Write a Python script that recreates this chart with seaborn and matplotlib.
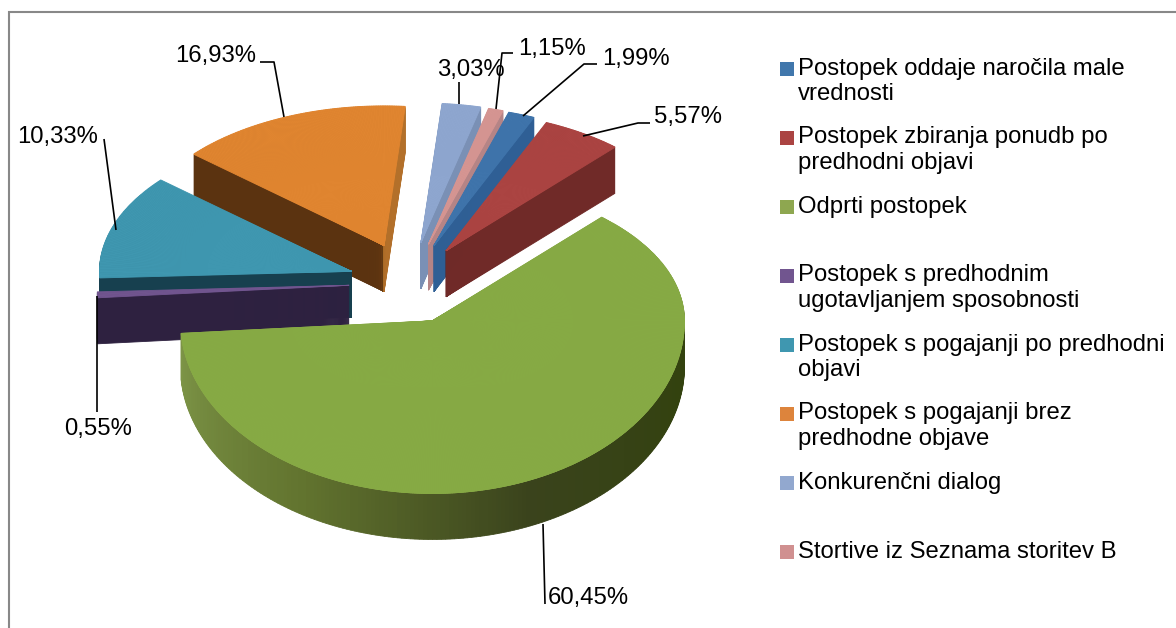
import numpy as np
import matplotlib
matplotlib.use('Agg')
import matplotlib.pyplot as plt
from matplotlib.patches import Rectangle
import seaborn as sns

# data, in the order of the legend
categories = [
    'Postopek oddaje naročila male\nvrednosti',
    'Postopek zbiranja ponudb po\npredhodni objavi',
    'Odprti postopek',
    'Postopek s predhodnim\nugotavljanjem sposobnosti',
    'Postopek s pogajanji po predhodni\nobjavi',
    'Postopek s pogajanji brez\npredhodne objave',
    'Konkurenčni dialog',
    'Stortive iz Seznama storitev B',
]
shares = [1.99, 5.57, 60.45, 0.55, 10.33, 16.93, 3.03, 1.15]

top_colors = ['#3f74ab', '#ab4442', '#8ea750', '#71558f', '#3f97b0', '#e08530', '#8ea6cf', '#d59592']
key_colors = ['#4177ac', '#ab4442', '#8ea750', '#71558f', '#3f97b0', '#dd843c', '#92a8cf', '#d09090']
side_stops = [
    ['#2f5f95', '#2f5f95'],
    ['#702a28', '#702a28'],
    ['#33420f', '#33420f', '#3a431c', '#62742f', '#7e9648'],
    ['#2e2140', '#2e2140'],
    ['#17404f', '#17404f'],
    ['#5b3310', '#b3702a'],
    ['#7a90b5', '#7a90b5'],
    ['#b58486', '#b58486'],
]

# label position (centre of text) and leader line, in picture pixels
label_pos = [(636, 59), (688, 117), (588, 598), (98, 429), (58, 137), (216, 56), (471, 70), (552, 49)]
leaders = [
    [(597, 64), (584, 64), (523, 116)],
    [(650, 123), (638, 123), (583, 136)],
    [(543, 524), (545, 604)],
    [(97, 412), (97, 296)],
    [(104, 139), (116, 230)],
    [(260, 62), (274, 62), (284, 117)],
    [(459, 82), (459, 104)],
    [(513, 53), (502, 53), (496, 109)],
]

# 3d look of the pie
SQUASH = 0.685
DEPTH = 46
START = 21
EXPLODE = 60
BASE_X, BASE_Y = 409, 283
SIDE_R, BACK_R = 252, 204
FONT = 17.2

sns.set_theme(style='white')
plt.rcParams['font.family'] = ['Liberation Sans', 'DejaVu Sans']


def outer_radius(angle):
    # back of the pie looks smaller, like in perspective
    s, c = np.sin(np.radians(angle)), np.cos(np.radians(angle))
    depth_r = BACK_R if c > 0 else SIDE_R
    return 1 / np.sqrt((s / SIDE_R) ** 2 + (c / depth_r) ** 2)


def draw_layer(ax, share, first, cols, drop):
    span = share * 3.6
    n = len(cols)
    mid = first + span / 2
    cx = BASE_X + EXPLODE * np.sin(np.radians(mid))
    cy = (628 - BASE_Y - drop) / SQUASH + EXPLODE * np.cos(np.radians(mid))
    wedges, texts = ax.pie([share / 100 / n] * n, colors=cols, startangle=90 - first,
                           counterclock=False, normalize=False, center=(cx, cy),
                           frame=True, wedgeprops={'linewidth': 0.6})
    for t in texts:
        t.remove()
    for k, w in enumerate(wedges):
        w.set_edgecolor(w.get_facecolor())
        w.set_radius(outer_radius(first + span * (k + 0.5) / n))
    return wedges


fig = plt.figure(figsize=(11.76, 6.28), dpi=100, facecolor='white')
ax = fig.add_axes([0, 0, 1, 1])

starts = START + 3.6 * np.concatenate([[0], np.cumsum(shares)[:-1]])

# back slices first, the big green one goes last
for i in [5, 6, 7, 0, 1, 4, 3, 2]:
    n = max(2, int(np.ceil(shares[i] * 3.6)))
    shades = sns.blend_palette(side_stops[i], n_colors=n)
    for drop in range(DEPTH, 0, -1):
        draw_layer(ax, shares[i], starts[i], shades, drop)
    draw_layer(ax, shares[i], starts[i], [top_colors[i]] * (2 * n), 0)

ax.set_aspect('auto')
ax.set_xlim(0, 1176)
ax.set_ylim(0, 628 / SQUASH)
ax.axis('off')

# the green top changes tone along a straight vertical band
band = Rectangle((520, 0), 400, 628 / SQUASH, transform=ax.transData)
for w in draw_layer(ax, shares[2], starts[2], ['#86aa44'] * 436, 0):
    w.set_clip_path(band)
ax.set_aspect('auto')
ax.set_xlim(0, 1176)
ax.set_ylim(0, 628 / SQUASH)

# everything else is placed in pixels
over = fig.add_axes([0, 0, 1, 1])
over.set_xlim(0, 1176)
over.set_ylim(628, 0)
over.axis('off')
over.patch.set_alpha(0)

# chart frame, only left and top survive in the picture
over.plot([9, 9, 1176], [628, 12, 12], color='#888888', linewidth=1.5, solid_joinstyle='miter')

for i, v in enumerate(shares):
    txt = f'{v:.2f}'.replace('.', ',') + '%'
    over.text(label_pos[i][0], label_pos[i][1], txt, ha='center', va='center', fontsize=FONT, color='black')
    xs, ys = zip(*leaders[i])
    over.plot(xs, ys, color='black', linewidth=1.2, solid_capstyle='butt')

for i, name in enumerate(categories):
    y = 68.5 + 69 * i
    over.scatter([786.5], [y], marker='s', s=88, color=key_colors[i], linewidths=0)
    over.text(798, y - 11, name, ha='left', va='top', fontsize=FONT, color='black', linespacing=1.22)

fig.savefig('out.png', dpi=100)
